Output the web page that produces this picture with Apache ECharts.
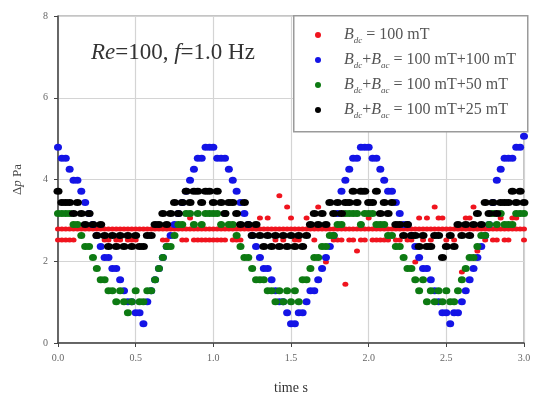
<!DOCTYPE html>
<html>
<head>
<meta charset="utf-8">
<script src="https://cdn.jsdelivr.net/npm/echarts@6/dist/echarts.min.js"></script>
<style>
  html, body { margin: 0; padding: 0; background: #fff; }
  #main { width: 536px; height: 402px; }
</style>
</head>
<body>
<div id="main"></div>
<script>
// sampling step of the recorded pressure, s
const dt = 0.025

// B_dc + B_ac = 100 mT + 100 mT
const blue = [
  4.79, 4.52, 4.52, 4.25, 3.98, 3.98, 3.71, 3.44, 3.17, 2.90, // 0.00
  2.63, 2.36, 2.09, 2.09, 1.82, 1.82, 1.55, 1.28, 1.01, 1.01, // 0.25
  0.74, 0.74, 0.47, 1.01, 1.28, 1.55, 1.82, 2.09, 2.36, 2.63, // 0.50
  2.90, 3.17, 3.44, 3.71, 3.98, 4.25, 4.52, 4.52, 4.79, 4.79, // 0.75
  4.79, 4.52, 4.52, 4.52, 4.25, 3.98, 3.71, 3.44, 3.17, 2.90, // 1.00
  2.63, 2.36, 2.09, 1.82, 1.82, 1.55, 1.28, 1.01, 1.01, 0.74, // 1.25
  0.47, 0.47, 0.74, 0.74, 1.01, 1.28, 1.28, 1.55, 1.82, 2.09, // 1.50
  2.36, 2.63, 3.17, 3.71, 3.98, 4.25, 4.52, 4.52, 4.79, 4.79, // 1.75
  4.79, 4.52, 4.52, 4.25, 3.98, 3.71, 3.71, 3.44, 3.17, 2.90, // 2.00
  2.90, 2.63, 2.36, 2.09, 1.82, 1.82, 1.55, 1.28, 1.01, 0.74, // 2.25
  0.74, 0.47, 0.74, 0.74, 1.01, 1.28, 1.55, 1.82, 2.09, 2.36, // 2.50
  2.63, 2.90, 3.44, 3.98, 4.25, 4.52, 4.52, 4.52, 4.79, 4.79, // 2.75
  5.06
]

// B_dc + B_ac = 100 mT + 50 mT
const green = [
  3.17, 3.17, 3.17, 3.17, 2.90, 2.90, 2.63, 2.36, 2.36, 2.09,
  1.82, 1.55, 1.55, 1.28, 1.28, 1.01, 1.28, 1.01, 0.74, 1.01,
  1.28, 1.01, 1.01, 1.28, 1.28, 1.55, 1.82, 2.09, 2.36, 2.36,
  2.63, 2.90, 2.90, 3.17, 3.17, 2.90, 3.17, 2.90, 3.17, 3.17,
  3.17, 3.17, 2.90, 3.17, 2.90, 2.90, 2.63, 2.36, 2.09, 2.09,
  1.82, 1.55, 1.55, 1.55, 1.28, 1.28, 1.01, 1.28, 1.01, 1.28,
  1.01, 1.28, 1.01, 1.55, 1.55, 1.82, 2.09, 2.09, 2.36, 2.36,
  2.63, 2.63, 2.90, 2.90, 3.17, 3.17, 3.17, 3.17, 2.90, 3.17,
  3.17, 3.17, 2.90, 2.90, 2.90, 2.63, 2.63, 2.36, 2.36, 2.09,
  1.82, 1.82, 1.55, 1.28, 1.55, 1.01, 1.28, 1.01, 1.28, 1.01,
  1.28, 1.01, 1.01, 1.28, 1.55, 1.82, 2.09, 2.09, 2.36, 2.63,
  2.63, 2.90, 3.17, 2.90, 3.17, 2.90, 2.90, 2.90, 3.17, 3.17,
  3.17
]

// B_dc + B_ac = 100 mT + 25 mT
const black = [
  3.71, 3.44, 3.44, 3.44, 3.17, 3.44, 3.17, 2.90, 3.17, 2.90,
  2.63, 2.90, 2.63, 2.36, 2.63, 2.36, 2.63, 2.36, 2.63, 2.36,
  2.63, 2.36, 2.36, 2.63, 2.63, 2.90, 2.90, 3.17, 2.90, 3.17,
  3.44, 3.17, 3.44, 3.71, 3.44, 3.71, 3.71, 3.44, 3.71, 3.71,
  3.44, 3.71, 3.44, 3.17, 3.44, 3.44, 3.17, 2.90, 3.44, 2.90,
  2.63, 2.90, 2.63, 2.36, 2.63, 2.36, 2.63, 2.36, 2.63, 2.36,
  2.63, 2.36, 2.63, 2.36, 2.63, 2.90, 3.17, 2.90, 3.17, 2.90,
  3.44, 3.17, 3.44, 3.17, 3.44, 3.44, 3.71, 3.44, 3.71, 3.71,
  3.44, 3.44, 3.71, 3.17, 3.44, 3.17, 3.44, 2.90, 2.90, 2.63,
  2.90, 2.63, 2.63, 2.36, 2.63, 2.36, 2.36, 2.63, 2.63, 2.09,
  2.36, 2.63, 2.36, 2.90, 2.63, 2.90, 2.63, 2.90, 3.17, 2.90,
  3.44, 3.17, 3.44, 3.17, 3.44, 3.44, 3.44, 3.71, 3.44, 3.71,
  3.44
]

// B_dc = 100 mT, two readings per sample (second one may be missing)
const redA = [
  2.79, 2.79, 2.79, 2.79, 2.79, 2.79, 2.79, 2.79, 2.79, 2.79,
  2.79, 2.79, 2.79, 2.79, 2.79, 2.79, 2.79, 2.79, 2.79, 2.79,
  2.79, 2.79, 2.79, 2.79, 2.79, 2.79, 2.79, 2.79, 2.79, 2.79,
  2.79, 2.79, 2.79, 2.79, 2.79, 2.79, 2.79, 2.79, 2.79, 2.79,
  2.79, 2.79, 2.79, 2.79, 2.79, 2.79, 2.79, 2.79, 2.79, 2.79,
  2.79, 2.79, 2.79, 2.79, 2.79, 2.79, 2.79, 2.79, 2.79, 2.79,
  2.79, 2.79, 2.79, 2.79, 2.79, 2.79, 2.79, 2.79, 2.79, 2.79,
  2.79, 2.79, 2.79, 2.79, 2.79, 2.79, 2.79, 2.79, 2.79, 2.79,
  2.79, 2.79, 2.79, 2.79, 2.79, 2.79, 2.79, 2.79, 2.79, 2.79,
  2.79, 2.79, 2.79, 2.79, 2.79, 2.79, 2.79, 2.79, 2.79, 2.79,
  2.79, 2.79, 2.79, 2.79, 2.79, 2.79, 2.79, 2.79, 2.79, 2.79,
  2.79, 2.79, 2.79, 2.79, 2.79, 2.79, 2.79, 2.79, 2.79, 2.79,
  2.79
]
const redB = [
  2.52, 2.52, 2.52, 2.52, 2.52, null, null, null, null, null,
  null, null, 2.52, 2.52, null, 2.52, 2.52, null, 2.52, 2.52,
  2.52, null, null, null, null, null, null, 2.52, 2.52, null,
  null, null, 2.52, 2.52, 3.06, 2.52, 2.52, 2.52, 2.52, 2.52,
  2.52, 2.52, 2.52, 2.52, null, 2.52, 2.52, 2.52, null, null,
  null, null, 3.06, null, 3.06, null, 2.52, 3.60, 2.52, 3.33,
  3.06, 2.52, 2.52, null, 3.06, null, 2.52, 3.33, null, 1.98,
  null, 2.52, 2.52, 2.52, 1.44, 2.52, 2.52, 2.25, 2.52, 2.52,
  3.06, 2.52, 2.52, 2.52, 2.52, 2.52, null, 2.52, 2.52, null,
  2.52, 2.52, 1.98, 3.06, 2.52, 3.06, 2.52, 3.33, 3.06, 3.06,
  2.52, null, 2.52, null, 1.74, 3.06, 3.06, 3.33, 2.25, null,
  2.52, null, 2.52, 2.52, 3.06, 2.52, 2.52, 3.06, 3.06, null,
  2.52
]

const seriesNames = [
  'Bdc = 100 mT',
  'Bdc+Bac = 100 mT+100 mT',
  'Bdc+Bac = 100 mT+50 mT',
  'Bdc+Bac = 100 mT+25 mT'
]
const xTicks = ['0.0', '0.5', '1.0', '1.5', '2.0', '2.5', '3.0']

const pts = (arr) => arr.map((v, i) => [+(i * dt).toFixed(3), v]).filter(p => p[1] != null)

const serif = 'Liberation Serif'

// 'Bdc+Bac = ...' -> rich text with italic B and subscripts
function legendLabel(name) {
  const m = name.match(/^(.*?)( = .*)$/)
  const left = m[1].split('+').map(s => '{b|B}{s|' + s.slice(1) + '}').join('{t|+}')
  return left + '{t|' + m[2] + '}'
}

const chart = echarts.init(document.getElementById('main'))
chart.setOption({
  backgroundColor: '#fff',
  animation: false,
  grid: {
    left: 58, right: 12, top: 16, bottom: 59,
    show: true, borderColor: '#8a8a8a', borderWidth: 1
  },
  xAxis: {
    type: 'value', min: 0, max: 3, interval: 0.5,
    name: 'time s', nameLocation: 'middle', nameGap: 38,
    nameTextStyle: { fontFamily: serif, fontSize: 14, color: '#333' },
    axisLine: { lineStyle: { color: '#444', width: 1.5 } },
    axisTick: { show: true, length: 4, lineStyle: { color: '#444' } },
    axisLabel: {
      margin: 10, fontFamily: serif, fontSize: 10, color: '#666',
      formatter: (v) => xTicks[Math.round(v / 0.5)]
    },
    splitLine: { show: true, lineStyle: { color: '#d4d4d4', width: 1.2 } }
  },
  yAxis: {
    type: 'value', min: 0, max: 8, interval: 2,
    name: '{d|Δ}{p|p}{d| Pa}', nameLocation: 'middle', nameGap: 34,
    nameTextStyle: {
      rich: {
        d: { fontFamily: serif, fontSize: 13, color: '#444' },
        p: { fontFamily: serif, fontSize: 13, fontStyle: 'italic', color: '#444' }
      }
    },
    axisLine: { show: true, lineStyle: { color: '#444', width: 1.5 } },
    axisTick: { show: true, length: 4, lineStyle: { color: '#444' } },
    axisLabel: { margin: 10, fontFamily: serif, fontSize: 10, color: '#666' },
    splitLine: { show: true, lineStyle: { color: '#d4d4d4', width: 1.2 } }
  },
  legend: {
    orient: 'vertical', left: 315, top: 25, z: 20,
    data: seriesNames, icon: 'circle', itemWidth: 6, itemHeight: 6, itemGap: 5,
    padding: 0, selectedMode: false,
    formatter: (name) => '{sp|}' + legendLabel(name),
    textStyle: {
      fontFamily: serif, fontSize: 16, color: '#555', lineHeight: 20,
      rich: {
        sp: { width: 18 },
        b: { fontFamily: serif, fontSize: 16, fontStyle: 'italic', color: '#555', lineHeight: 20 },
        s: { fontFamily: serif, fontSize: 9, fontStyle: 'italic', color: '#555', lineHeight: 13, verticalAlign: 'bottom' },
        t: { fontFamily: serif, fontSize: 16, color: '#555', lineHeight: 20 }
      }
    }
  },
  graphic: [
    {
      type: 'rect', z: 15, left: 293, top: 15,
      shape: { width: 234, height: 116 },
      style: { fill: '#fff', stroke: '#9a9a9a', lineWidth: 1.5 }
    },
    {
      type: 'text', z: 15, left: 91, top: 41,
      style: {
        text: '{i|Re}{t|=100, }{i|f}{t|=1.0 Hz}',
        rich: {
          i: { fontFamily: serif, fontSize: 23, fontStyle: 'italic', fill: '#333' },
          t: { fontFamily: serif, fontSize: 23, fill: '#333' }
        }
      }
    }
  ],
  series: [
    {
      name: seriesNames[0], type: 'scatter', symbolSize: [6, 5],
      itemStyle: { color: '#f0141e', opacity: 1 },
      data: pts(redA).concat(pts(redB))
    },
    {
      name: seriesNames[1], type: 'scatter', symbolSize: [8, 7],
      itemStyle: { color: '#1414e6', opacity: 1 },
      data: pts(blue)
    },
    {
      name: seriesNames[2], type: 'scatter', symbolSize: [8, 7],
      itemStyle: { color: '#0d7a12', opacity: 1 },
      data: pts(green)
    },
    {
      name: seriesNames[3], type: 'scatter', symbolSize: [9, 7],
      itemStyle: { color: '#000', opacity: 1 },
      data: pts(black)
    }
  ]
})
</script>
</body>
</html>
